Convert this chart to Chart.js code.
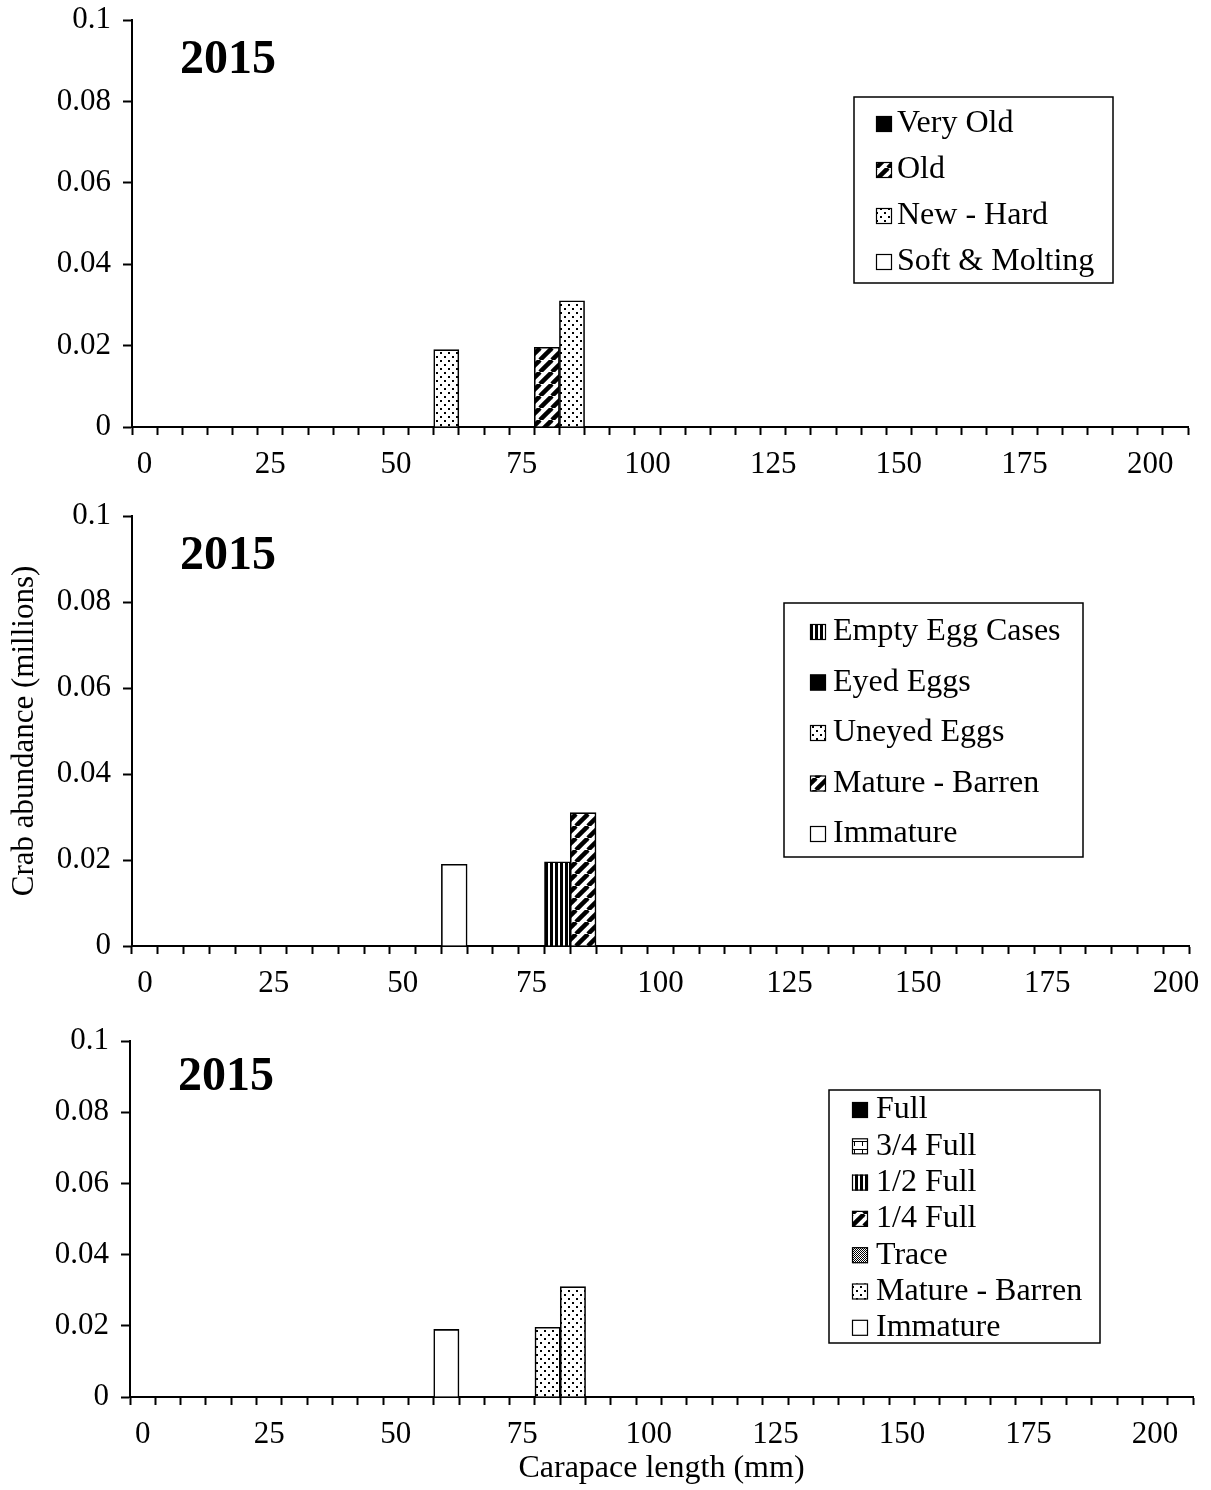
<!DOCTYPE html>
<html>
<head>
<meta charset="utf-8">
<title>Crab abundance 2015</title>
<script src="https://cdn.jsdelivr.net/npm/chart.js@4.4.1/dist/chart.umd.min.js"></script>
<style>
  body { margin: 0; background: #fff; }
  .panel { position: absolute; left: 0; width: 1211px; }
</style>
</head>
<body>
<div class="panel" style="top:0;height:490px"><canvas id="shellChart"></canvas></div>
<div class="panel" style="top:490px;height:520px"><canvas id="eggChart"></canvas></div>
<div class="panel" style="top:1010px;height:480px"><canvas id="clutchChart"></canvas></div>
<script>
// carapace length bins (mm)
const lengthBins = [0, 5, 10, 15, 20, 25, 30, 35, 40, 45, 50, 55, 60, 65, 70, 75, 80, 85, 90, 95, 100,
    105, 110, 115, 120, 125, 130, 135, 140, 145, 150, 155, 160, 165, 170, 175, 180, 185, 190, 195, 200, 205];
const xTickLabels = ['0', '25', '50', '75', '100', '125', '150', '175', '200'];
const year = '2015';

// shell condition, [length, abundance in millions]
const softMolting = [];
const newHard = [[60, 0.019], [85, 0.031]];
const oldShell = [[80, 0.0196]];
const veryOld = [];

// egg condition
const immatureEgg = [[60, 0.019]];
const matureBarrenEgg = [[85, 0.031]];
const uneyedEggs = [];
const eyedEggs = [];
const emptyEggCases = [[80, 0.0196]];

// clutch fullness
const immature = [[60, 0.019]];
const matureBarren = [[80, 0.0196], [85, 0.031]];
const trace = [];
const quarterFull = [];
const halfFull = [];
const threeQuarterFull = [];
const full = [];

const serif = "'Liberation Serif', 'Times New Roman', serif";
Chart.defaults.font.family = serif;
Chart.defaults.color = '#000';

function toSeries(bins, pairs) {
    return bins.map(b => {
        const p = pairs.find(q => q[0] === b);
        return p ? p[1] : null;
    });
}

function makeFill(ctx, kind) {
    if (kind === 'black') return '#000';
    if (kind === 'white') return '#fff';
    const sizes = { dots: [8, 8], diagonal: [12, 12], vertical: [5, 4], dash: [8, 8], checker: [2, 2] };
    const tile = document.createElement('canvas');
    tile.width = sizes[kind][0];
    tile.height = sizes[kind][1];
    const g = tile.getContext('2d');
    g.fillStyle = '#fff';
    g.fillRect(0, 0, tile.width, tile.height);
    g.fillStyle = '#000';
    g.strokeStyle = '#000';
    if (kind === 'dots') {
        g.fillRect(0, 0, 2, 2);
        g.fillRect(4, 4, 2, 2);
    } else if (kind === 'diagonal') {
        g.lineWidth = 4.5;
        for (const o of [-12, 0, 12]) {
            g.beginPath();
            g.moveTo(o, 12);
            g.lineTo(o + 12, 0);
            g.stroke();
        }
    } else if (kind === 'vertical') {
        g.fillRect(0, 0, 3, 4);
    } else if (kind === 'dash') {
        g.fillRect(0, 3, 8, 1);
        g.fillRect(6, 4, 1, 4);
    } else if (kind === 'checker') {
        g.fillRect(0, 0, 1, 1);
        g.fillRect(1, 1, 1, 1);
    }
    return ctx.createPattern(tile, 'repeat');
}

// year label + boxed legend drawn inside the plot
const panelDecor = {
    id: 'panelDecor',
    afterDraw(chart, args, o) {
        const { ctx, chartArea } = chart;
        ctx.save();
        ctx.fillStyle = '#000';
        ctx.textBaseline = 'middle';
        ctx.font = 'bold 48px ' + serif;
        ctx.fillText(year, chartArea.left + 48, chartArea.top + o.yearY);

        ctx.fillStyle = '#fff';
        ctx.fillRect(o.x, o.y, o.w, o.h);
        ctx.lineWidth = 1.5;
        ctx.strokeStyle = '#000';
        ctx.strokeRect(o.x, o.y, o.w, o.h);

        ctx.font = '32px ' + serif;
        chart.data.datasets.slice().reverse().forEach((ds, i) => {
            const y = o.firstRow + i * o.step + 3;
            ctx.fillStyle = ds.backgroundColor;
            ctx.fillRect(o.iconX, y - 8, 16, 16);
            ctx.lineWidth = 1.2;
            ctx.strokeRect(o.iconX + 0.5, y - 7.5, 15, 15);
            ctx.fillStyle = '#000';
            ctx.fillText(ds.label, o.textX, y);
        });
        ctx.restore();
    }
};

function makePanel(id, bins, series, frame, legendBox, yTitle, xTitle) {
    const canvas = document.getElementById(id);
    const ctx = canvas.getContext('2d');
    return new Chart(canvas, {
        type: 'bar',
        data: {
            labels: bins,
            datasets: series.map(s => ({
                label: s.label,
                data: toSeries(bins, s.pairs),
                backgroundColor: makeFill(ctx, s.fill),
                borderColor: '#000',
                borderWidth: 1.6,
                barPercentage: 1,
                categoryPercentage: 1
            }))
        },
        options: {
            responsive: true,
            maintainAspectRatio: false,
            animation: false,
            layout: { padding: { top: frame.top, right: frame.right, left: 0, bottom: 0 } },
            plugins: {
                legend: { display: false },
                tooltip: { enabled: false },
                panelDecor: legendBox
            },
            scales: {
                x: {
                    stacked: true,
                    offset: true,
                    grid: { offset: true, drawOnChartArea: false, tickLength: 8, tickWidth: 2, tickColor: '#000' },
                    border: { color: '#000', width: 2 },
                    ticks: {
                        autoSkip: false,
                        maxRotation: 0,
                        padding: 11,
                        font: { size: 31, lineHeight: 1.2 },
                        callback: function (value) {
                            const lab = String(this.getLabelForValue(value));
                            return xTickLabels.includes(lab) ? lab : '';
                        }
                    },
                    title: {
                        display: !!xTitle,
                        text: xTitle || '',
                        font: { size: 32, lineHeight: 1.2 },
                        padding: { top: 0, bottom: 2 }
                    },
                    afterFit: s => {
                        s.height = frame.xHeight;
                        s.paddingLeft = 0;
                        s.paddingRight = 0;
                    }
                },
                y: {
                    stacked: true,
                    min: 0,
                    max: 0.1,
                    grid: { drawOnChartArea: false, tickLength: 9, tickWidth: 2, tickColor: '#000' },
                    border: { color: '#000', width: 2 },
                    ticks: {
                        stepSize: 0.02,
                        padding: 12,
                        font: { size: 31 },
                        callback: v => String(Math.round(v * 1000) / 1000)
                    },
                    title: {
                        display: !!yTitle,
                        text: yTitle || '',
                        font: { size: 31, lineHeight: 1.2 },
                        padding: { top: 6, bottom: 0 }
                    },
                    afterFit: s => {
                        s.width = frame.left;
                        s.paddingTop = 0;
                        s.paddingBottom = 0;
                    }
                }
            }
        },
        plugins: [panelDecor]
    });
}

makePanel('shellChart', lengthBins, [
    { label: 'Soft & Molting', pairs: softMolting, fill: 'white' },
    { label: 'New - Hard', pairs: newHard, fill: 'dots' },
    { label: 'Old', pairs: oldShell, fill: 'diagonal' },
    { label: 'Very Old', pairs: veryOld, fill: 'black' }
], { top: 20, right: 23, left: 132, xHeight: 63 },
   { x: 854, y: 97, w: 259, h: 186, firstRow: 121, step: 46, iconX: 876, textX: 897, yearY: 41 });

makePanel('eggChart', lengthBins.slice(0, 41), [
    { label: 'Immature', pairs: immatureEgg, fill: 'white' },
    { label: 'Mature - Barren', pairs: matureBarrenEgg, fill: 'diagonal' },
    { label: 'Uneyed Eggs', pairs: uneyedEggs, fill: 'dots' },
    { label: 'Eyed Eggs', pairs: eyedEggs, fill: 'black' },
    { label: 'Empty Egg Cases', pairs: emptyEggCases, fill: 'vertical' }
], { top: 26, right: 22, left: 132, xHeight: 64 },
   { x: 784, y: 113, w: 299, h: 254, firstRow: 139, step: 50.5, iconX: 810, textX: 833, yearY: 41 },
   'Crab abundance (millions)');

makePanel('clutchChart', lengthBins, [
    { label: 'Immature', pairs: immature, fill: 'white' },
    { label: 'Mature - Barren', pairs: matureBarren, fill: 'dots' },
    { label: 'Trace', pairs: trace, fill: 'checker' },
    { label: '1/4 Full', pairs: quarterFull, fill: 'diagonal' },
    { label: '1/2 Full', pairs: halfFull, fill: 'vertical' },
    { label: '3/4 Full', pairs: threeQuarterFull, fill: 'dash' },
    { label: 'Full', pairs: full, fill: 'black' }
], { top: 31, right: 18, left: 130, xHeight: 93 },
   { x: 829, y: 80, w: 271, h: 253, firstRow: 97, step: 36.3, iconX: 852, textX: 876, yearY: 37 },
   null, 'Carapace length (mm)');
</script>
</body>
</html>
